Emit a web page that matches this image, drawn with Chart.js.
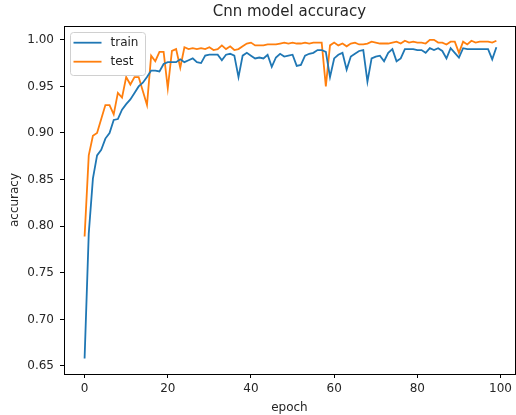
<!DOCTYPE html>
<html>
<head>
<meta charset="utf-8">
<title>Cnn model accuracy</title>
<script src="https://cdn.jsdelivr.net/npm/chart.js@4.4.1/dist/chart.umd.min.js"></script>
<style>
  html, body { margin: 0; padding: 0; background: #fff; }
  #wrap { position: relative; width: 516px; height: 415px; }
</style>
</head>
<body>
<div id="wrap"><canvas id="accChart"></canvas></div>
<script>
/* ── Data ─────────────────────────────────────────── */
const epochs = Array.from({ length: 100 }, (_, i) => i);

const trainAcc = [
  0.658, 0.792, 0.851, 0.876, 0.882, 0.894, 0.900, 0.914, 0.915, 0.925,
  0.931, 0.936, 0.943, 0.950, 0.954, 0.960, 0.967, 0.967, 0.966, 0.974,
  0.976, 0.976, 0.976, 0.979, 0.976, 0.978, 0.980, 0.976, 0.975, 0.983,
  0.984, 0.984, 0.984, 0.978, 0.984, 0.985, 0.983, 0.960, 0.983, 0.986,
  0.983, 0.980, 0.981, 0.980, 0.984, 0.971, 0.981, 0.985, 0.982, 0.983,
  0.984, 0.972, 0.973, 0.983, 0.985, 0.986, 0.989, 0.989, 0.987, 0.960,
  0.980, 0.984, 0.986, 0.968, 0.982, 0.985, 0.988, 0.989, 0.955, 0.980,
  0.982, 0.983, 0.977, 0.986, 0.990, 0.977, 0.980, 0.990, 0.990, 0.990,
  0.989, 0.989, 0.986, 0.991, 0.989, 0.991, 0.988, 0.980, 0.991, 0.986,
  0.981, 0.991, 0.990, 0.990, 0.990, 0.990, 0.990, 0.990, 0.979, 0.992
];

const testAcc = [
  0.789, 0.876, 0.897, 0.900, 0.915, 0.930, 0.930, 0.920, 0.943, 0.938,
  0.960, 0.952, 0.960, 0.960, 0.945, 0.930, 0.983, 0.977, 0.987, 0.987,
  0.948, 0.988, 0.990, 0.970, 0.992, 0.990, 0.991, 0.990, 0.991, 0.990,
  0.992, 0.989, 0.990, 0.994, 0.990, 0.993, 0.989, 0.990, 0.993, 0.996,
  0.997, 0.994, 0.994, 0.994, 0.995, 0.995, 0.995, 0.996, 0.997, 0.996,
  0.997, 0.996, 0.996, 0.997, 0.996, 0.997, 0.997, 0.997, 0.950, 0.994,
  0.997, 0.994, 0.996, 0.993, 0.996, 0.997, 0.995, 0.995, 0.996, 0.998,
  0.997, 0.996, 0.996, 0.996, 0.997, 0.998, 0.996, 0.999, 0.997, 0.998,
  0.997, 0.997, 0.996, 1.000, 1.000, 0.997, 0.997, 0.995, 0.998, 0.998,
  0.986, 0.998, 0.995, 0.999, 0.997, 0.998, 0.998, 0.998, 0.997, 0.999
];

const xTicks = [0, 20, 40, 60, 80, 100];
const yTicks = [0.65, 0.70, 0.75, 0.80, 0.85, 0.90, 0.95, 1.00];
const chartTitle = 'Cnn model accuracy';

/* ── Style ────────────────────────────────────────── */
const BLUE   = '#1f77b4';
const ORANGE = '#ff7f0e';
const INK    = '#262626';
const FONT   = "'DejaVu Sans', sans-serif";

const toPoints = ys => ys.map((y, i) => ({ x: epochs[i], y }));

/* ── Plugins: axes frame, title over axes, legend ─── */
const framePlugin = {
  id: 'frame',
  afterDatasetsDraw(chart) {
    const { ctx, chartArea: a } = chart;
    ctx.save();
    ctx.strokeStyle = '#000';
    ctx.lineWidth = 1;
    ctx.strokeRect(Math.round(a.left) + 0.5, Math.round(a.top) + 0.5,
                   Math.round(a.right - a.left), Math.round(a.bottom - a.top));
    ctx.restore();
  }
};

// matplotlib centres the title over the axes, not over the whole figure
const axesTitlePlugin = {
  id: 'axesTitle',
  afterDraw(chart) {
    const { ctx, chartArea: a } = chart;
    ctx.save();
    ctx.font = '15px ' + FONT;
    ctx.fillStyle = INK;
    ctx.textAlign = 'center';
    ctx.textBaseline = 'middle';
    ctx.fillText(chartTitle, (a.left + a.right) / 2, 12);
    ctx.restore();
  }
};

const legendPlugin = {
  id: 'boxLegend',
  afterDraw(chart) {
    const { ctx } = chart;
    const x = 70.5, y = 32.5, w = 75, h = 43, r = 3;
    ctx.save();
    ctx.beginPath();
    ctx.roundRect(x, y, w, h, r);
    ctx.fillStyle = 'rgba(255,255,255,0.8)';
    ctx.fill();
    ctx.strokeStyle = '#d0d0d0';
    ctx.lineWidth = 1;
    ctx.stroke();

    ctx.font = '12px ' + FONT;
    ctx.textBaseline = 'middle';
    chart.data.datasets.forEach((ds, i) => {
      const ly = 42.7 + i * 19;
      ctx.strokeStyle = ds.borderColor;
      ctx.lineWidth = 1.8;
      ctx.beginPath();
      ctx.moveTo(73.5, ly);
      ctx.lineTo(101.5, ly);
      ctx.stroke();
      ctx.fillStyle = INK;
      ctx.fillText(ds.label, 110.5, ly + 0.5);
    });
    ctx.restore();
  }
};

/* ── Chart ────────────────────────────────────────── */
new Chart(document.getElementById('accChart'), {
  type: 'line',
  data: {
    datasets: [
      {
        label: 'train',
        data: toPoints(trainAcc),
        borderColor: BLUE,
        borderWidth: 1.8,
        pointRadius: 0,
        tension: 0,
        fill: false
      },
      {
        label: 'test',
        data: toPoints(testAcc),
        borderColor: ORANGE,
        borderWidth: 1.8,
        pointRadius: 0,
        tension: 0,
        fill: false
      }
    ]
  },
  options: {
    responsive: true,
    maintainAspectRatio: false,
    animation: false,
    layout: { padding: { top: 26, left: 0, right: 0, bottom: 0 } },
    plugins: {
      legend: { display: false },
      tooltip: { enabled: false },
      title: { display: false }
    },
    scales: {
      x: {
        type: 'linear',
        min: -4.95,
        max: 103.45,
        afterBuildTicks: axis => { axis.ticks = xTicks.map(v => ({ value: v })); },
        afterFit: scale => { scale.height = 41; },
        grid: { drawOnChartArea: false, drawTicks: true, tickLength: 4, color: '#000' },
        border: { display: false },
        ticks: {
          color: INK, padding: 4, maxRotation: 0, autoSkip: false,
          font: { family: FONT, size: 12 },
          callback: v => String(v)
        },
        title: {
          display: true, text: 'epoch', color: INK,
          font: { family: FONT, size: 12 },
          padding: { top: 0, bottom: 0 }
        }
      },
      y: {
        type: 'linear',
        min: 0.6414,
        max: 1.0148,
        afterBuildTicks: axis => { axis.ticks = yTicks.map(v => ({ value: v })); },
        afterFit: scale => { scale.width = 64; },
        grid: { drawOnChartArea: false, drawTicks: true, tickLength: 4, color: '#000' },
        border: { display: false },
        ticks: {
          color: INK, padding: 6, autoSkip: false,
          font: { family: FONT, size: 12 },
          callback: v => Number(v).toFixed(2)
        },
        title: {
          display: true, text: 'accuracy', color: INK,
          font: { family: FONT, size: 12 },
          padding: { top: 8, bottom: 0 }
        }
      }
    }
  },
  plugins: [framePlugin, axesTitlePlugin, legendPlugin]
});
</script>
</body>
</html>
